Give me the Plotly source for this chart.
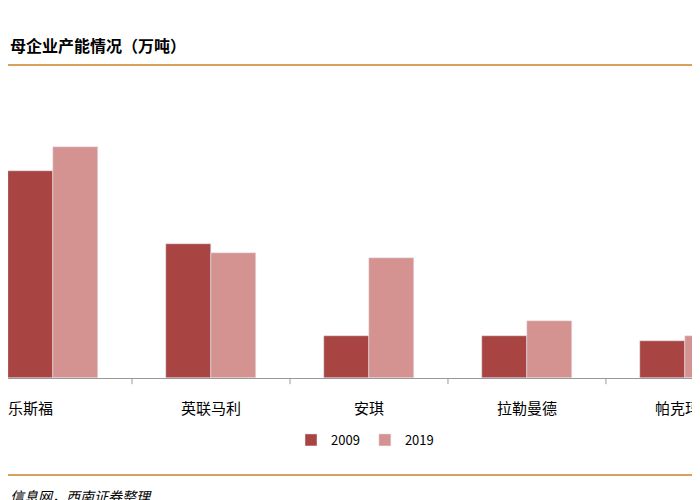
import plotly.graph_objects as go

categories = ["乐斯福", "英联马利", "安琪", "拉勒曼德", "帕克玛雅"]
v2009 = [51.8, 33.5, 10.5, 10.5, 9.3]
v2019 = [57.8, 31.3, 30.0, 14.3, 10.5]
xs = list(range(len(categories)))

fig = go.Figure()
fig.add_bar(x=xs, y=v2009, name="2009", marker_color="#a84442", offset=-0.285, width=0.285)
fig.add_bar(x=xs, y=v2019, name="2019", marker_color="#d49391", offset=0, width=0.285)

shapes = []
for b in [0.5, 1.5, 2.5, 3.5]:
    shapes.append(dict(type="line", xref="x", yref="paper", x0=b, x1=b, y0=0, y1=-0.02,
                       line=dict(color="#999999", width=1)))
for yp in [500-57, 500-467]:
    shapes.append(dict(type="line", xref="paper", yref="paper", x0=0, x1=1,
                       y0=(yp-130)/310, y1=(yp-130)/310, line=dict(color="#d9a05b", width=2)))

annotations = [
    dict(text="<b>母企业产能情况（万吨）</b>", xref="paper", yref="paper", x=0, y=(500-37-130)/310,
         xanchor="left", yanchor="middle", showarrow=False, font=dict(size=16)),
    dict(text="<i>信息网，西南证券整理</i>", xref="paper", yref="paper", x=0, y=(500-488-130)/310,
         xanchor="left", yanchor="middle", showarrow=False, font=dict(size=14)),
]
for i, c in zip(xs, categories):
    xpos = i - 0.14 if i == 0 else i
    annotations.append(dict(text=c, xref="x", yref="paper", x=xpos, y=(500-399-130)/310,
                            xanchor="center", yanchor="middle", showarrow=False,
                            font=dict(size=15)))

fig.update_layout(
    width=700, height=500, margin=dict(l=0, r=0, t=60, b=130, autoexpand=False),
    plot_bgcolor="white", paper_bgcolor="white",
    font=dict(family="Noto Sans CJK SC", size=14, color="#000000"),
    barmode="overlay", bargap=0,
    xaxis=dict(range=[-0.285, 4.146], showticklabels=False, showline=True, automargin=False,
               linecolor="#999999", ticks="", showgrid=False, zeroline=False),
    yaxis=dict(range=[0, 77.5], visible=False, automargin=False),
    legend=dict(orientation="h", x=0.51, xanchor="center", y=-0.2, yanchor="middle",
                font=dict(size=13)),
    shapes=shapes,
    annotations=annotations,
)
fig.write_html("out.html")
